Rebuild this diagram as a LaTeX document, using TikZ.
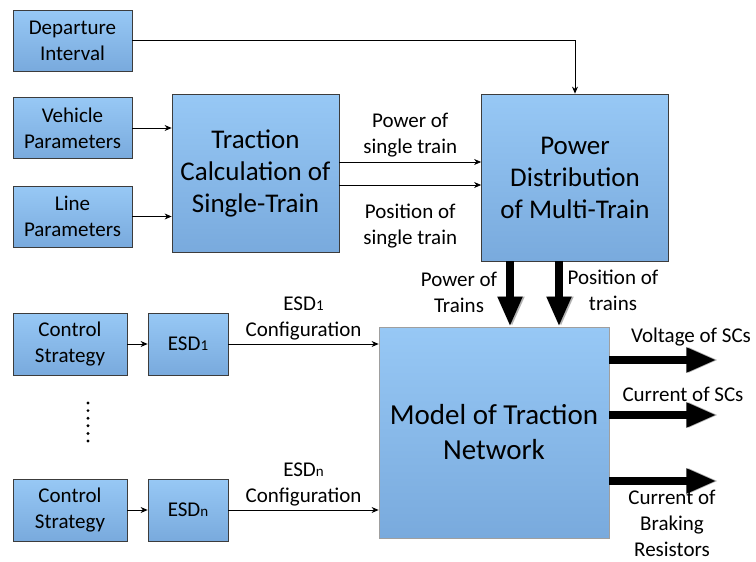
\documentclass[tikz,border=0pt]{standalone}
\usepackage{fontspec}
\setmainfont{Carlito}
\usetikzlibrary{arrows.meta,positioning,calc}

\definecolor{boxtop}{RGB}{151,200,245}
\definecolor{boxbot}{RGB}{121,170,221}
\definecolor{boxline}{RGB}{60,60,60}

\tikzset{
  box/.style={draw=boxline, line width=0.8pt, top color=boxtop, bottom color=boxbot,
    align=center, inner sep=0pt, font=\fontsize{21}{26}\selectfont},
  lbl/.style={align=center, font=\fontsize{21}{26}\selectfont},
  thin arrow/.style={-{Stealth[length=7pt,width=6pt]}, line width=0.8pt},
  fatarrow/.style={line width=8pt, -{Triangle[length=30pt,width=23pt]},
    preaction={draw=gray!60, transform canvas={xshift=2pt}}},
}
\newcommand{\sbs}[1]{{\fontsize{15}{15}\selectfont #1}}

\begin{document}
\begin{tikzpicture}[x=1pt,y=-1pt]
  \useasboundingbox (0,0) rectangle (756,562);

  % input blocks
  \node[box, minimum width=119pt, minimum height=61pt] (dep) at (72.5,40.5) {Departure\\Interval};
  \node[box, minimum width=119pt, minimum height=61pt] (veh) at (72.5,128) {Vehicle\\Parameters};
  \node[box, minimum width=119pt, minimum height=61pt] (lin) at (72.5,216.5) {Line\\Parameters};

  \node[box, minimum width=167pt, minimum height=158pt, font=\fontsize{27}{32}\selectfont]
    (trac) at (255.5,173) {Traction\\Calculation of\\Single-Train};
  \node[box, minimum width=187pt, minimum height=167pt, font=\fontsize{27}{32}\selectfont]
    (pdist) at (575,177.5) {Power\\Distribution\\of Multi-Train};
  \node[box, draw=gray!75, minimum width=230pt, minimum height=211pt, font=\fontsize{29}{35}\selectfont]
    (model) at (494,432.5) {Model of Traction\\Network};

  % storage devices
  \node[box, minimum width=114pt, minimum height=62pt] (cs1) at (70,344) {Control\\Strategy};
  \node[box, minimum width=80pt, minimum height=62pt] (esd1) at (188,344) {ESD\sbs{1}};
  \node[box, minimum width=114pt, minimum height=62pt] (csn) at (70,510) {Control\\Strategy};
  \node[box, minimum width=80pt, minimum height=62pt] (esdn) at (188,510) {ESD\sbs{n}};

  \foreach \i in {0,...,5}
    \fill (88,403+7.6*\i) circle (1.6pt);

  % thin connectors
  \draw[thin arrow] (dep.east) -| (pdist.north);
  \draw[thin arrow] (veh.east) -- (veh.east -| trac.west);
  \draw[thin arrow] (lin.east) -- (lin.east -| trac.west);

  \coordinate (t1) at ([yshift=11pt]trac.east);
  \coordinate (t2) at ([yshift=-12pt]trac.east);
  \draw[thin arrow] (t1) -- (t1 -| pdist.west)
    node[lbl, midway, above, inner sep=4pt] {Power of\\single train};
  \draw[thin arrow] (t2) -- (t2 -| pdist.west)
    node[lbl, midway, below, inner sep=19pt] {Position of\\single train};

  \draw[thin arrow] (cs1) -- (esd1);
  \draw[thin arrow] (csn) -- (esdn);
  \draw[thin arrow] (esd1.east) -- (esd1.east -| model.west)
    node[lbl, midway, above, inner sep=3pt] {ESD\sbs{1}\\Configuration};
  \draw[thin arrow] (esdn.east) -- (esdn.east -| model.west)
    node[lbl, midway, above, inner sep=3pt] {ESD\sbs{n}\\Configuration};

  % thick connectors
  \coordinate (d1) at ([xshift=-65pt]pdist.south);
  \coordinate (d2) at ([xshift=-16pt]pdist.south);
  \draw[fatarrow] (d1) -- (d1 |- model.north);
  \draw[fatarrow] (d2) -- (d2 |- model.north);
  \node[lbl] (pwr) at (459,292) {Power of\\Trains};
  \node[lbl] (pos) at (613,290) {Position of\\trains};

  \coordinate (o1) at ([yshift=72.5pt]model.east);
  \coordinate (o2) at ([yshift=17.5pt]model.east);
  \coordinate (o3) at ([yshift=-48.5pt]model.east);
  \draw[fatarrow] (o1) -- ++(107,0);
  \draw[fatarrow] (o2) -- ++(107,0);
  \draw[fatarrow] (o3) -- ++(107,0);
  \node[lbl] (volt) at (691,337) {Voltage of SCs};
  \node[lbl] (cur) at (683,394) {Current of SCs};
  \node[lbl] (brk) at (672,523) {Current of\\Braking\\Resistors};
\end{tikzpicture}
\end{document}
